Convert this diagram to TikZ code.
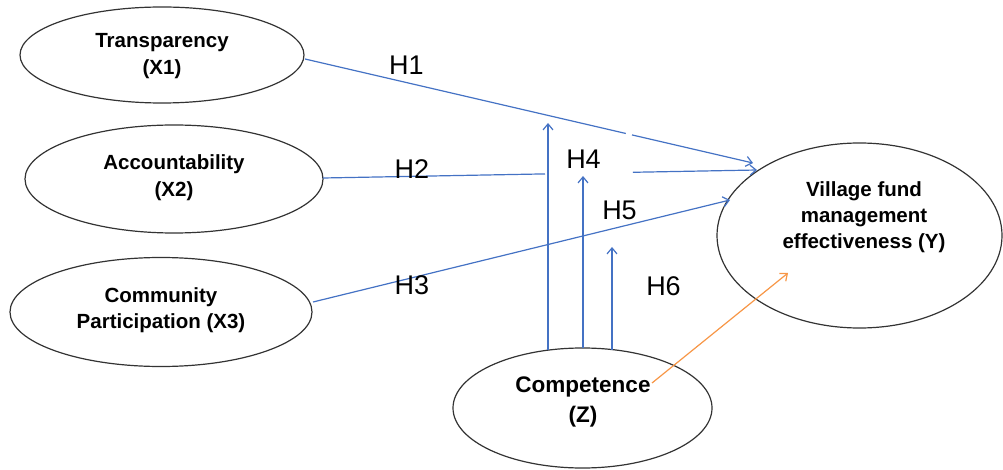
\documentclass[tikz,border=0pt]{standalone}
\usepackage{fontspec}
\setmainfont{Liberation Sans}
\usetikzlibrary{shapes.geometric,arrows.meta,calc}
\definecolor{lblue}{HTML}{4472C4}
\definecolor{lorange}{HTML}{F79646}
\definecolor{edge}{HTML}{333333}
\begin{document}
\begin{tikzpicture}[x=1pt,y=-1pt,
  latent/.style={draw=edge, line width=1.2pt, ellipse, inner sep=0pt},
  lbl/.style={font=\bfseries\fontsize{20.5}{27}\selectfont, align=center, inner sep=0pt},
  hyp/.style={font=\fontsize{27}{30}\selectfont, inner sep=0pt},
  conn/.style={draw=lblue, line width=1.2pt},
  oconn/.style={draw=lorange, line width=1.2pt},
  tip/.style={-{Straight Barb[length=6pt,width=10pt]}}
]
\useasboundingbox (0,0) rectangle (1003,470);

% latent variables
\node[latent, minimum width=284pt, minimum height=96pt]  (X1) at (162,55) {};
\node[latent, minimum width=298pt, minimum height=108pt] (X2) at (174,179) {};
\node[latent, minimum width=302pt, minimum height=109pt] (X3) at (161,312) {};
\node[latent, minimum width=285pt, minimum height=185pt] (Y)  at (859.5,235.5) {};
\node[latent, minimum width=259pt, minimum height=120pt] (Z)  at (582.5,408) {};

% texts
\node[lbl] (X1t) at (162,56.5) {Transparency\\(X1)};
\node[lbl] (X2t) at (174,177.5) {Accountability\\(X2)};
\node[lbl, font=\bfseries\fontsize{20.5}{25.5}\selectfont] (X3t) at (161,310) {Community\\Participation (X3)};
\node[lbl, font=\bfseries\fontsize{20.5}{26}\selectfont] (Yt) at (864,217) {Village fund\\management\\effectiveness (Y)};
\node[lbl, font=\bfseries\fontsize{22.5}{30}\selectfont] (Zt) at (583,402) {Competence\\(Z)};

% H1
\coordinate (h1s) at ($(X1.center)+(143,4)$);
\coordinate (h1e) at ($(Y.center)+(-106.5,-72.5)$);
\coordinate (h1a) at ($(h1s)!0.716!(h1e)$);
\coordinate (h1b) at ($(h1s)!0.730!(h1e)$);
\draw[conn] (h1s) -- (h1a);
\draw[conn,tip] (h1b) -- (h1e);

% H2
\coordinate (h2s) at ($(X2.center)+(149,-1)$);
\coordinate (h2e) at ($(Y.center)+(-102.5,-65.5)$);
\coordinate (h2a) at ($(h2s)!0.5115!(h2e)$);
\coordinate (h2b) at ($(h2s)!0.714!(h2e)$);
\draw[conn] (h2s) -- (h2a);
\draw[conn,tip] (h2b) -- (h2e);

% H3
\draw[conn,tip] ($(X3.center)+(152,-10)$) -- ($(Y.center)+(-129.5,-35.5)$);

% moderation arrows
\coordinate (m1) at ($(Z.center)+(-34.5,-285)$);
\coordinate (m2) at ($(Z.center)+(0.5,-232)$);
\coordinate (m3) at ($(Z.center)+(29.5,-161)$);
\draw[conn,tip] ($(Z.center)+(-34.5,-58)$) -- (m1);
\draw[conn,tip] ($(Z.center)+(0.5,-60)$) -- (m2);
\draw[conn,tip] ($(Z.center)+(29.5,-58.4)$) -- (m3);

% direct effect of Z
\draw[oconn,tip] ($(Z.center)+(69.5,-25)$) -- ($(Y.center)+(-71.5,37.5)$);

% hypothesis labels
\node[hyp] (H1) at (406.5,65) {H1};
\node[hyp] (H2) at (412,169) {H2};
\node[hyp] (H3) at (412,285) {H3};
\node[hyp] (H4) at (583.5,159.5) {H4};
\node[hyp] (H5) at (619.5,210.5) {H5};
\node[hyp] (H6) at (663.5,286) {H6};
\end{tikzpicture}
\end{document}
